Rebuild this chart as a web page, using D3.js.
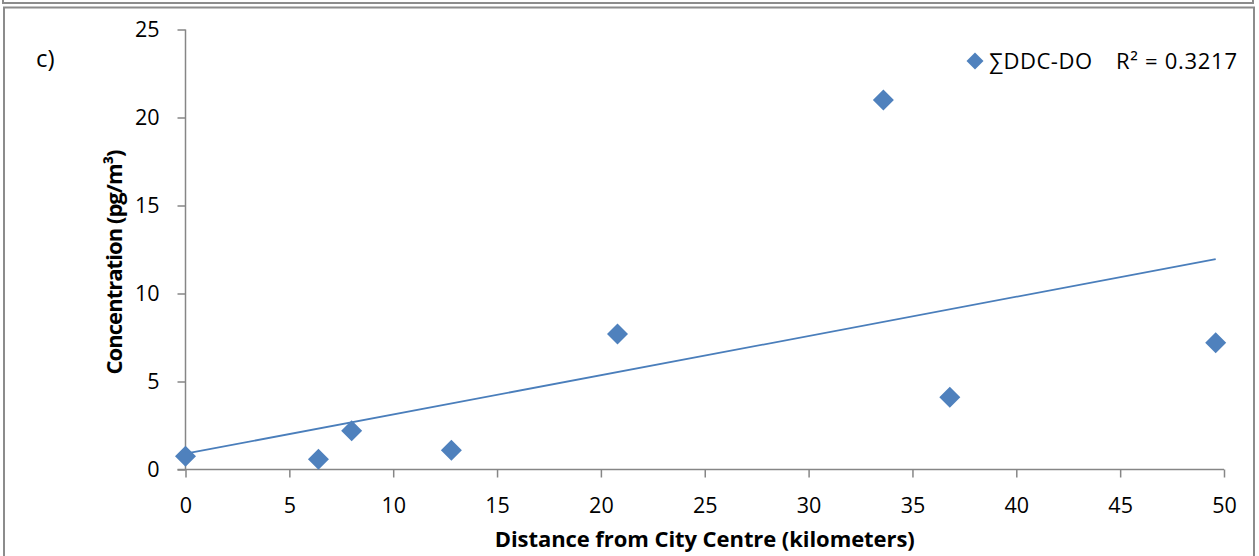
<!DOCTYPE html>
<html>
<head>
<meta charset="utf-8">
<script src="https://cdn.jsdelivr.net/npm/d3@7"></script>
<style>
  body { margin: 0; background: #fff; }
  text { font-family: "Open Sans", "Liberation Sans", Arial, sans-serif; fill: #000; }
</style>
</head>
<body>
<script>
var distance = [0, 6.4, 8, 12.8, 20.8, 33.6, 36.8, 49.6],
    concentration = [0.75, 0.58, 2.2, 1.1, 7.7, 21, 4.1, 7.2],
    xTicks = [0, 5, 10, 15, 20, 25, 30, 35, 40, 45, 50],
    yTicks = [0, 5, 10, 15, 20, 25],
    seriesName = "\u2211DDC-DO",
    r2Label = "R\u00b2 = 0.3217";

var W = 1259, H = 556;
var font = '"Open Sans", "Liberation Sans", Arial, sans-serif';
var svg = d3.select("body").append("svg")
            .attr("width", W)
            .attr("height", H);

// frames (bottom of previous panel + this panel)
svg.append("path")
   .attr("d", "M3,0 V3 H1253 V0")
   .attr("fill", "none").attr("stroke", "#8c8c8c").attr("stroke-width", 2);
svg.append("path")
   .attr("d", "M4,560 V7.5 H1254 V560")
   .attr("fill", "none").attr("stroke", "#8c8c8c").attr("stroke-width", 2);

var x = d3.scaleLinear().domain([0, 50]).range([185.5, 1224]);
var y = d3.scaleLinear().domain([0, 25]).range([469.5, 29.5]);

var xAxis = svg.append("g")
   .attr("transform", "translate(0," + y(0) + ")")
   .call(d3.axisBottom(x).tickValues(xTicks).tickSize(8).tickPadding(14).tickSizeOuter(8));
var yAxis = svg.append("g")
   .attr("transform", "translate(" + x(0) + ",0)")
   .call(d3.axisLeft(y).tickValues(yTicks).tickSize(8).tickPadding(18).tickSizeOuter(8));

[xAxis, yAxis].forEach(function (a) {
  a.selectAll("path, line").attr("stroke", "#868686").attr("stroke-width", 1.5);
  a.selectAll("text").attr("font-size", 21.5).attr("fill", "#000")
   .style("font-family", font);
});
xAxis.selectAll("text").attr("dy", "1em");
xAxis.select(".domain").remove();
xAxis.append("line").attr("x1", x(0) - 8).attr("x2", x(50))
     .attr("stroke", "#868686").attr("stroke-width", 1.5);
yAxis.select(".domain").remove();
yAxis.append("line").attr("y1", y(0)).attr("y2", y(25))
     .attr("stroke", "#868686").attr("stroke-width", 1.5);

// linear trendline (least squares)
var mx = d3.mean(distance), my = d3.mean(concentration),
    sxy = d3.sum(distance, function (d, i) { return (d - mx) * (concentration[i] - my); }),
    sxx = d3.sum(distance, function (d) { return (d - mx) * (d - mx); }),
    slope = sxy / sxx, icpt = my - slope * mx;
var ext = d3.extent(distance);
svg.append("line")
   .attr("x1", x(ext[0])).attr("y1", y(icpt + slope * ext[0]))
   .attr("x2", x(ext[1])).attr("y2", y(icpt + slope * ext[1]))
   .attr("stroke", "#4a7ebb").attr("stroke-width", 1.8);

function diamond(r) {
  return "M0," + (-r) + "L" + r + ",0L0," + r + "L" + (-r) + ",0Z";
}

svg.selectAll(".pt")
   .data(distance)
   .enter()
   .append("path")
   .attr("class", "pt")
   .attr("d", diamond(10.5))
   .attr("fill", "#4f81bd")
   .attr("transform", function (d, i) { return "translate(" + x(d) + "," + y(concentration[i]) + ")"; });

// legend
svg.append("path").attr("d", diamond(8.5)).attr("fill", "#4f81bd")
   .attr("transform", "translate(975,61)");
svg.append("text").attr("x", 989).attr("y", 69).attr("font-size", 22)
   .attr("textLength", 103).text(seriesName);
svg.append("text").attr("x", 1116).attr("y", 69).attr("font-size", 22)
   .attr("textLength", 121).text(r2Label);

svg.append("text").attr("x", 36).attr("y", 67).attr("font-size", 24).text("c)");

svg.append("text")
   .attr("x", (x(0) + x(50)) / 2).attr("y", 547)
   .attr("text-anchor", "middle").attr("font-size", 22).attr("font-weight", "bold")
   .attr("textLength", 420)
   .text("Distance from City Centre (kilometers)");

svg.append("text")
   .attr("transform", "translate(122,262) rotate(-90)")
   .attr("text-anchor", "middle").attr("font-size", 22).attr("font-weight", "bold")
   .attr("textLength", 225)
   .text("Concentration (pg/m\u00b3)");
</script>
</body>
</html>
